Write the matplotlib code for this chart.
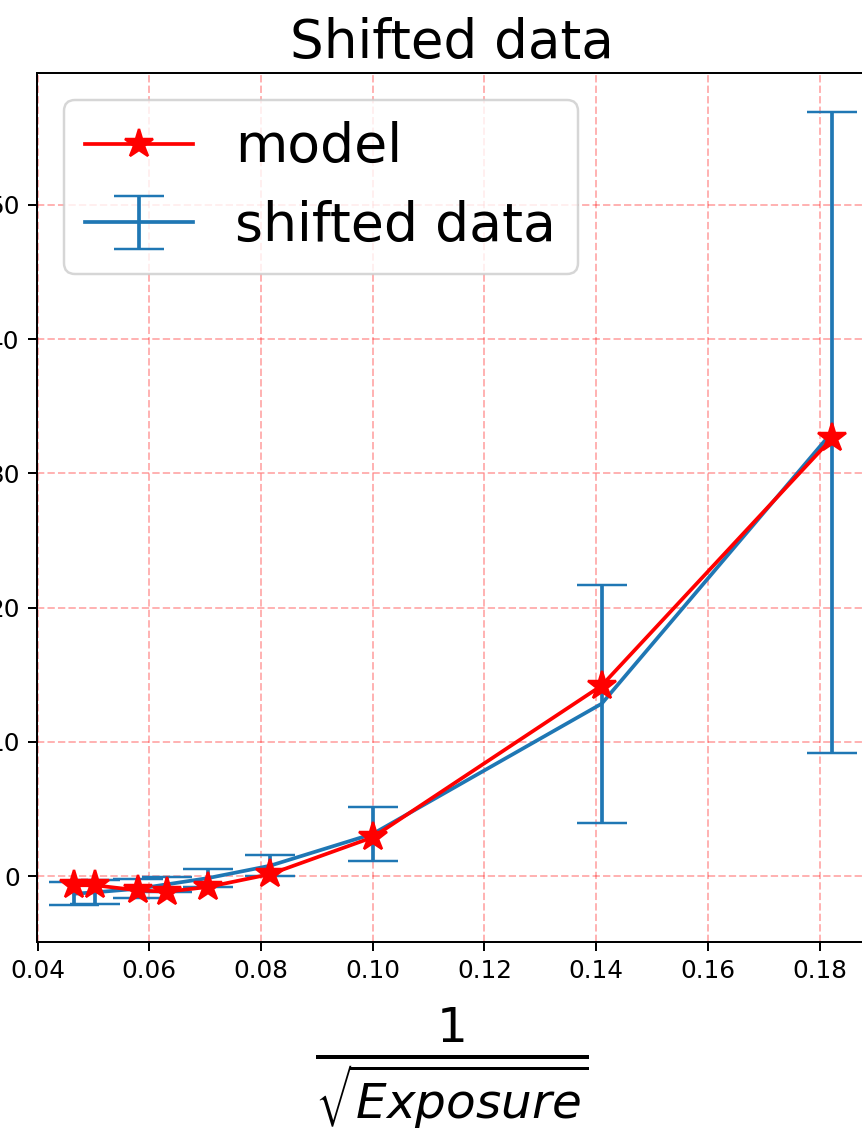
import matplotlib
matplotlib.use("Agg")
import matplotlib.pyplot as plt

# values
inv_sqrt_exposure = [0.0466, 0.0502, 0.0580, 0.0632, 0.0705, 0.0816, 0.1000, 0.1410, 0.1822]
model_vals = [-0.67, -0.67, -1.05, -1.15, -0.80, 0.15, 2.90, 14.20, 32.60]
data_vals = [-1.30, -1.20, -0.93, -0.60, -0.14, 0.78, 3.15, 12.85, 33.05]
data_err = [0.87, 0.90, 0.71, 0.56, 0.66, 0.78, 2.00, 8.85, 23.85]
x_ticks = [0.04, 0.06, 0.08, 0.10, 0.12, 0.14, 0.16, 0.18]
y_ticks = [0, 10, 20, 30, 40, 50]

dpi = 178
fig = plt.figure(figsize=(862 / dpi, 1135 / dpi), dpi=dpi)
ax = fig.add_axes([0.0429, 0.170, 0.963, 0.7656])

ax.plot(inv_sqrt_exposure, model_vals, 'r-*', markersize=12, label='model', zorder=3)
ax.errorbar(inv_sqrt_exposure, data_vals, yerr=data_err, color='tab:blue',
            capsize=10, label='shifted data', zorder=2)

ax.grid(color='r', linestyle='--', alpha=0.3)
ax.set_xticks(x_ticks)
ax.set_yticks(y_ticks)
ax.set_xlim(0.0399, 0.1885)
ax.set_ylim(-4.9, 59.8)
ax.set_title('Shifted data', fontsize=21.5)
ax.set_xlabel(r'$\frac{1}{\sqrt{Exposure}}$', fontsize=28, labelpad=9)
ax.legend(loc='upper left', fontsize=21.7)

fig.savefig('out.png', dpi=dpi)
